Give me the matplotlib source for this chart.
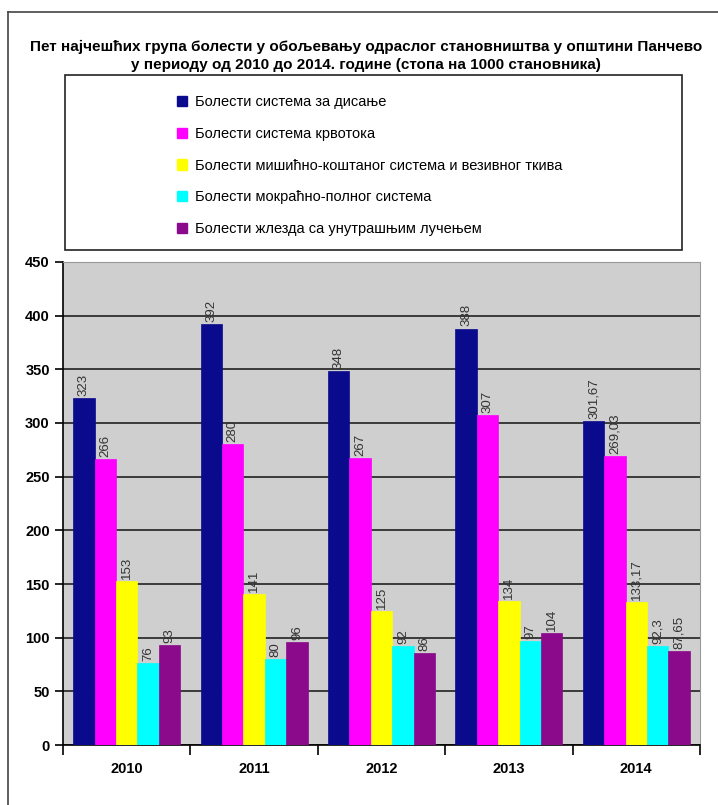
import matplotlib.pyplot as plt
import matplotlib.patches as mpatches
from matplotlib.lines import Line2D
import numpy as np

plt.rcParams['font.family'] = ['Liberation Sans', 'DejaVu Sans']

years = ['2010', '2011', '2012', '2013', '2014']
series_names = [
    'Болести система за дисање',
    'Болести система крвотока',
    'Болести мишићно-коштаног система и везивног ткива',
    'Болести мокраћно-полног система',
    'Болести жлезда са унутрашњим лучењем',
]
disanje = [323, 392, 348, 388, 301.67]
krvotok = [266, 280, 267, 307, 269.03]
misicno = [153, 141, 125, 134, 133.17]
mokracno = [76, 80, 92, 97, 92.3]
zlezde = [93, 96, 86, 104, 87.65]
colors = ['#0A0A8C', '#FF00FF', '#FFFF00', '#00FFFF', '#8B0A8B']

series = [disanje, krvotok, misicno, mokracno, zlezde]

fig = plt.figure(figsize=(7.18, 8.05), dpi=100)
ax = fig.add_axes([63 / 718, 60 / 805, 637 / 718, 483 / 805])
ax.set_facecolor('#CFCFCF')

x = np.arange(len(years))
w = 0.168
for i, (vals, c) in enumerate(zip(series, colors)):
    pos = x + (i - 2) * w
    ax.bar(pos, vals, width=w, color=c, edgecolor=c, linewidth=0.5, zorder=3)
    for p, v in zip(pos, vals):
        txt = ('%g' % v).replace('.', ',')
        ax.text(p, v + 2, txt, rotation=90, ha='center', va='bottom',
                fontsize=9.5, color='#333333', zorder=4)

ax.set_xlim(-0.5, 4.5)
ax.set_ylim(0, 450)
ax.set_yticks(range(0, 451, 50))
ax.yaxis.grid(True, color='#222222', linewidth=1.2, zorder=1)
ax.set_axisbelow(True)

# category ticks sit on the group boundaries, labels in the middle
ax.set_xticks(np.arange(-0.5, 5, 1))
ax.set_xticklabels([])
ax.set_xticks(x, minor=True)
ax.set_xticklabels(years, minor=True, fontweight='bold', fontsize=10.5)
ax.tick_params(axis='x', which='major', length=7, width=1.2)
ax.tick_params(axis='x', which='minor', length=0, pad=12)
ax.tick_params(axis='y', length=6, width=1.2, labelsize=10.5)
for lab in ax.get_yticklabels():
    lab.set_fontweight('bold')

for s in ['top', 'right']:
    ax.spines[s].set_color('#999999')
    ax.spines[s].set_linewidth(0.8)
for s in ['left', 'bottom']:
    ax.spines[s].set_linewidth(1.2)

fig.text(366 / 718, 1 - 47 / 805,
         'Пет најчешћих група болести у обољевању одраслог становништва у општини Панчево',
         ha='center', va='center', fontsize=11, fontweight='bold')
fig.text(366 / 718, 1 - 65 / 805,
         'у периоду од 2010 до 2014. године (стопа на 1000 становника)',
         ha='center', va='center', fontsize=11, fontweight='bold')

# legend box
fig.add_artist(mpatches.Rectangle((65 / 718, 1 - 250 / 805), 617 / 718, 175 / 805,
                                  transform=fig.transFigure, fill=False,
                                  edgecolor='#222222', linewidth=1.2))
handles = [mpatches.Patch(color=c) for c in colors]
fig.legend(handles, series_names, loc='upper left',
           bbox_to_anchor=(164 / 718, 1 - 82 / 805), frameon=False,
           fontsize=10.5, handlelength=0.7, handleheight=0.7, handletextpad=0.5,
           labelspacing=1.22)

# outer frame
fig.add_artist(Line2D([8 / 718, 8 / 718], [0, 1 - 12 / 805], transform=fig.transFigure,
                      color='#444444', linewidth=1.2))
fig.add_artist(Line2D([8 / 718, 1], [1 - 12 / 805, 1 - 12 / 805], transform=fig.transFigure,
                      color='#444444', linewidth=1.2))

fig.savefig('out.png', dpi=100)
